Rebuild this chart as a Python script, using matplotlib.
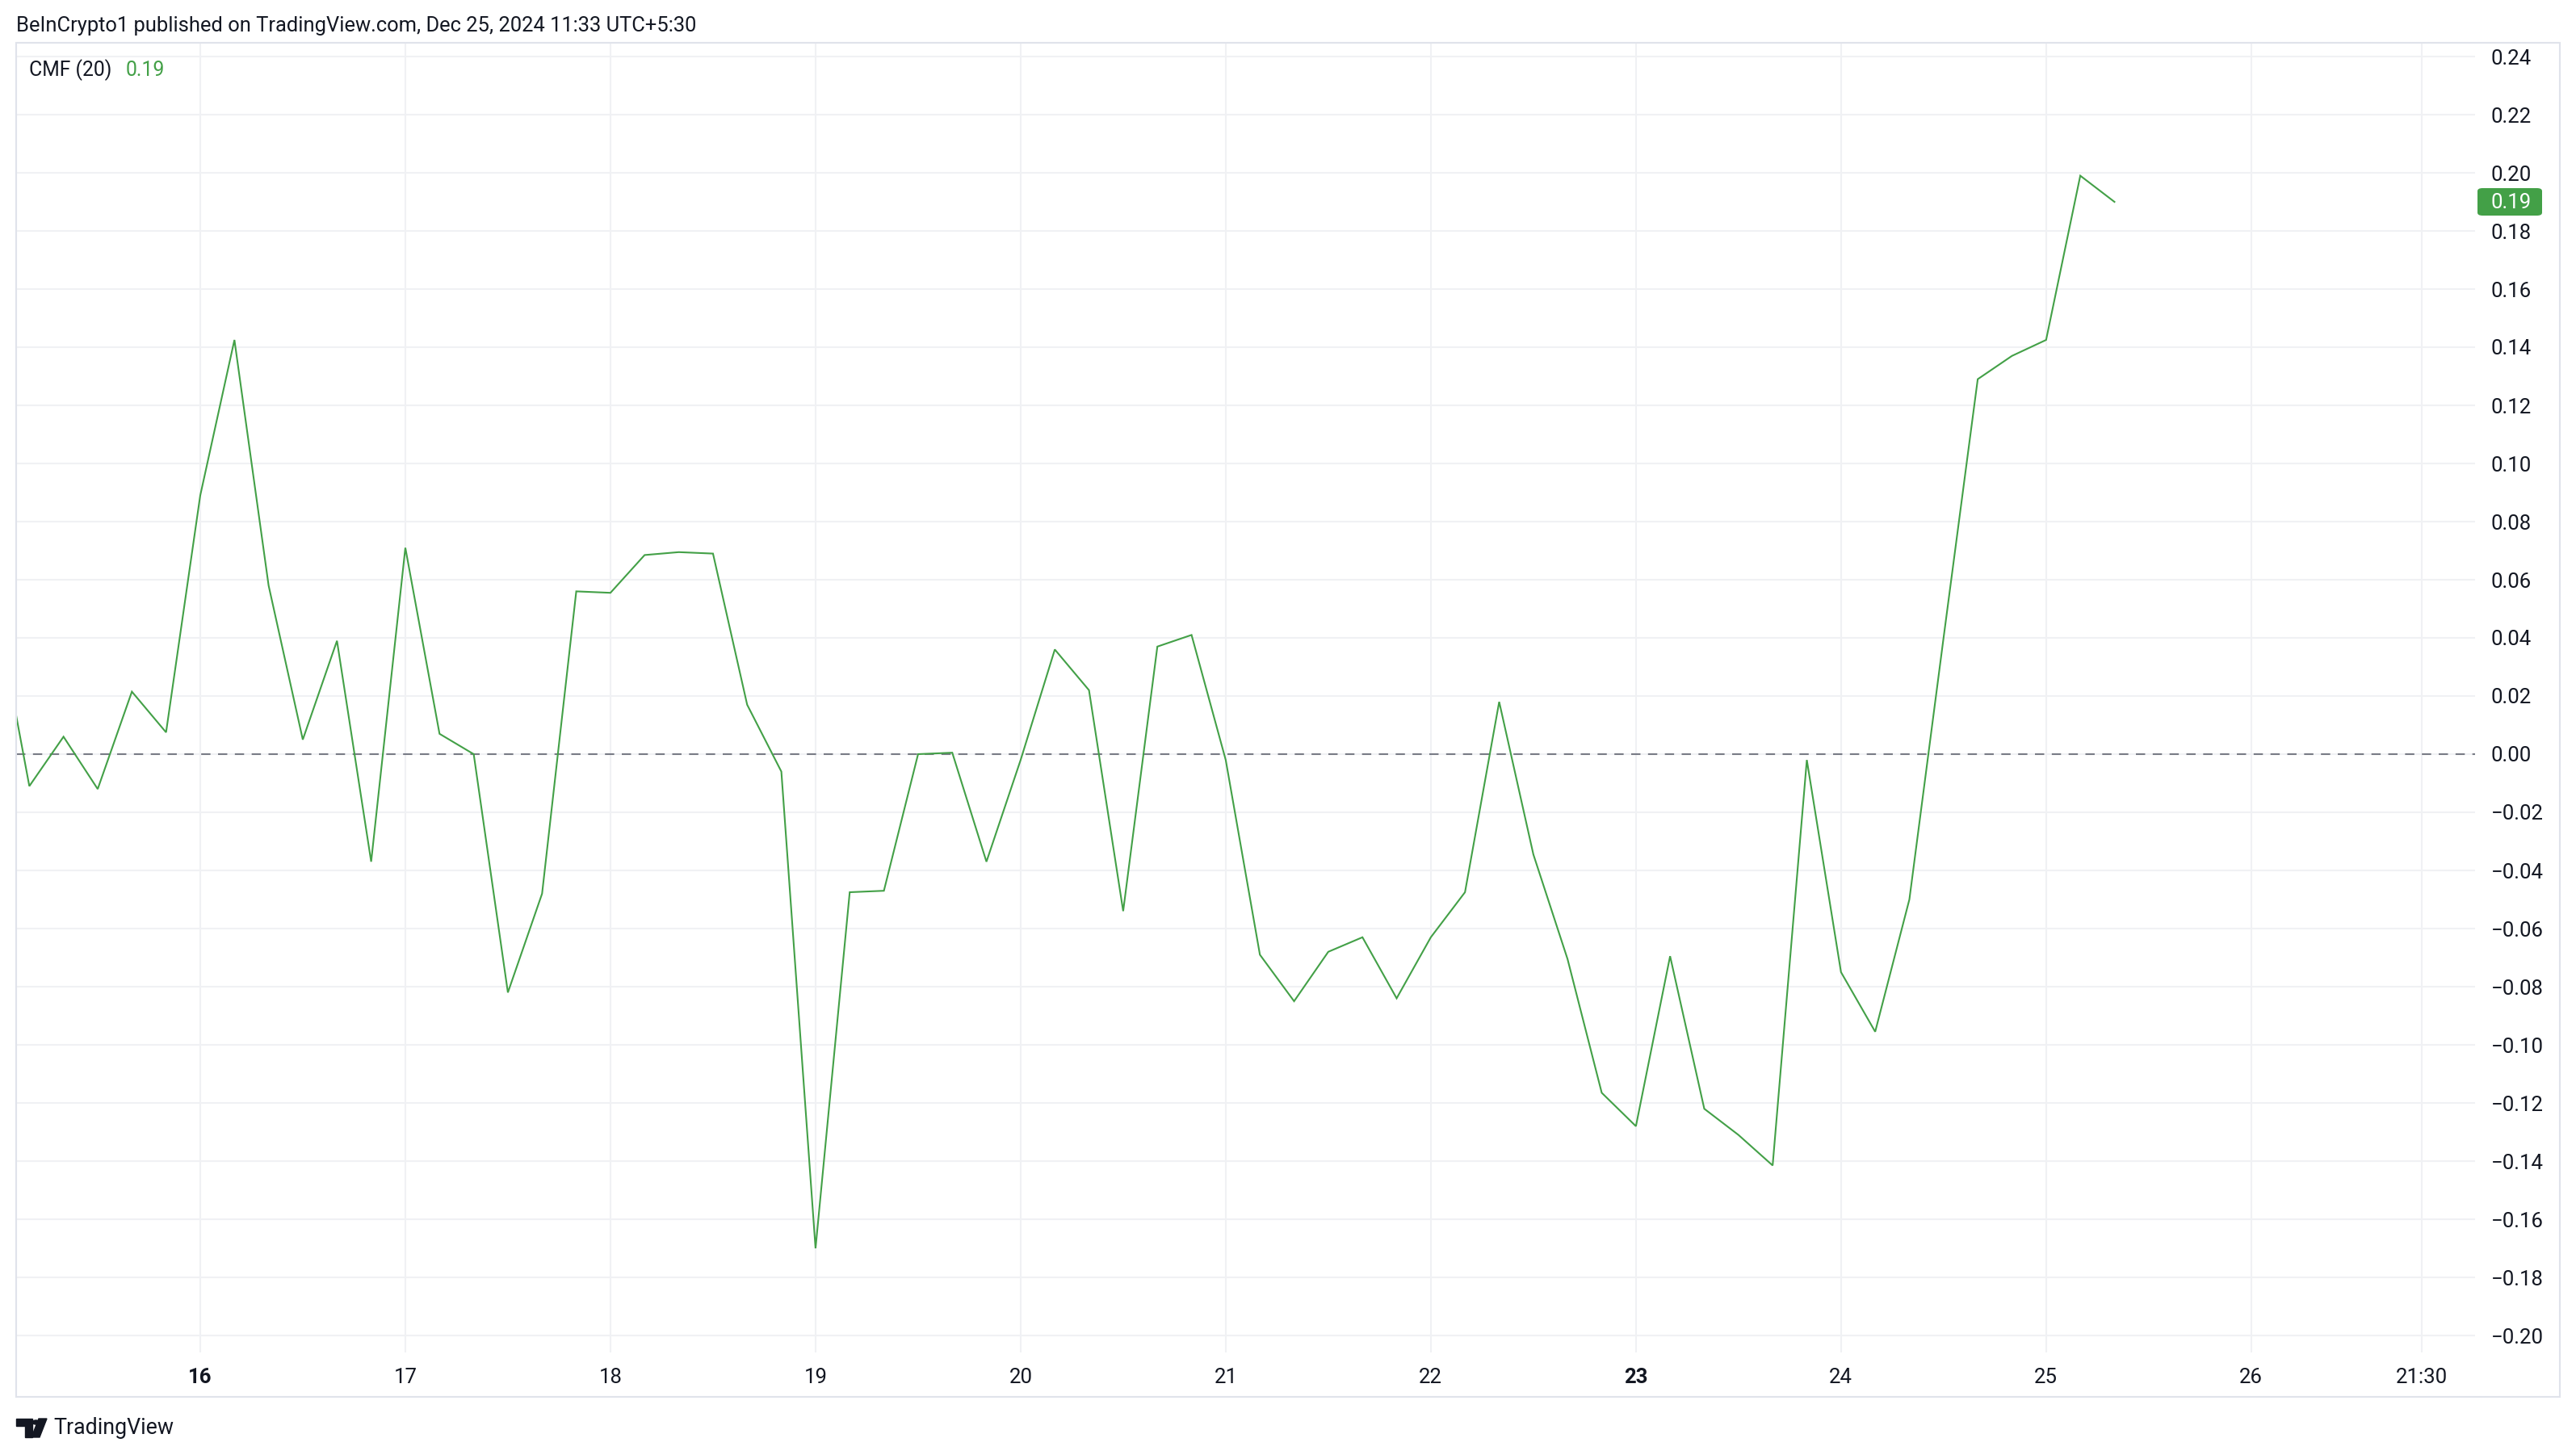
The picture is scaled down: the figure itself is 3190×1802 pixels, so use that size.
import matplotlib
matplotlib.use("Agg")
import matplotlib.pyplot as plt
import matplotlib.patches as mpatches
import matplotlib.dates as mdates
import numpy as np
import pandas as pd

# CMF(20) values, 4h bars (UTC+5:30), first bar Dec 15 01:30
cmf = [0.052, -0.011, 0.006, -0.012, 0.0215, 0.0075,
       0.089, 0.1425, 0.058, 0.005, 0.039, -0.037,
       0.071, 0.007, 0.000, -0.082, -0.048, 0.056,
       0.0555, 0.0685, 0.0695, 0.069, 0.017, -0.006,
       -0.170, -0.0475, -0.047, 0.000, 0.0005, -0.037,
       -0.002, 0.036, 0.022, -0.054, 0.037, 0.041,
       -0.002, -0.069, -0.085, -0.068, -0.063, -0.084,
       -0.063, -0.0475, 0.018, -0.0345, -0.0705, -0.1165,
       -0.128, -0.0695, -0.122, -0.131, -0.1415, -0.002,
       -0.075, -0.0955, -0.050, 0.040, 0.129, 0.137,
       0.1425, 0.199, 0.190]
times = pd.date_range("2024-12-15 01:30", periods=len(cmf), freq="4h")

day_ticks = pd.date_range("2024-12-16 01:30", "2024-12-26 01:30", freq="1D")
tick_times = list(day_ticks) + [pd.Timestamp("2024-12-26 21:30")]
tick_labels = [str(d.day) for d in day_ticks] + ["21:30"]
bold_labels = ["16", "23"]
y_ticks = np.round(np.arange(-0.20, 0.2401, 0.02), 2) + 0.0
last_value = 0.19

W, H = 3190, 1802
GREEN = "#43a047"
GRID = "#f0f1f4"
TXT = "#131722"
plt.rcParams["font.family"] = ["Roboto", "DejaVu Sans"]

fig = plt.figure(figsize=(W / 100, H / 100), dpi=100)
fig.patch.set_facecolor("white")

def fx(x): return x / W
def fy(y): return 1 - y / H

# plot area in pixels
L, R, T, B = 20, 3065, 53, 1675
ax = fig.add_axes([fx(L), fy(B), fx(R) - fx(L), fy(T) - fy(B)])

# x scale: bar 0 at pixel -6, 42.33 px per 4h bar
bar_px = 42.33
t0 = mdates.date2num(times[0])
step = 4 / 24
ax.set_xlim(t0 + (L + 6) / bar_px * step, t0 + (R + 6) / bar_px * step)
# y scale: 0.24 at y=70, 3600 px per unit
ax.set_ylim(-0.20 - (B - 1654) / 3600, 0.24 + (70 - T) / 3600)

ax.plot(times, cmf, color=GREEN, lw=1.5, solid_joinstyle="miter", zorder=3)
ax.axhline(0, color="#787b86", lw=1.5, linestyle=(0, (5.5, 4.5)), zorder=2)


def fmt(v):
    s = f"{v:.2f}"
    if s == "-0.00":
        s = "0.00"
    return s.replace("-", "\u2212")


ax.set_yticks(y_ticks)
ax.set_yticklabels([fmt(v) for v in y_ticks])
ax.yaxis.tick_right()
ax.set_xticks(tick_times)
ax.set_xticklabels(tick_labels)
for lab in ax.get_xticklabels():
    if lab.get_text() in bold_labels:
        lab.set_fontweight("bold")
ax.tick_params(axis="y", length=0, pad=14, labelsize=18.5, labelcolor=TXT)
ax.tick_params(axis="x", length=0, pad=13.5, labelsize=18.5, labelcolor=TXT)
ax.grid(True, color=GRID, lw=1.5)
ax.set_axisbelow(True)
for s in ax.spines.values():
    s.set_visible(False)

# outer panel border
fig.add_artist(mpatches.Rectangle((fx(20), fy(1730)), fx(3170) - fx(20), fy(53) - fy(1730),
                                  transform=fig.transFigure, fill=False,
                                  edgecolor="#e0e3eb", lw=1.5))

# last value tag
fig.add_artist(mpatches.FancyBboxPatch((fx(3068), fy(267)), fx(3148) - fx(3068), fy(233) - fy(267),
                                       boxstyle="round,pad=0,rounding_size=0.002",
                                       transform=fig.transFigure, facecolor=GREEN, edgecolor="none"))
fig.text(fx(3085), fy(251), f"{last_value:.2f}", color="white", fontsize=18.5,
         ha="left", va="center")

# header and legend
fig.text(fx(20), fy(32), "BeInCrypto1 published on TradingView.com, Dec 25, 2024 11:33 UTC+5:30",
         fontsize=18.4, color=TXT, ha="left", va="center")
fig.text(fx(36), fy(87), "CMF (20)", fontsize=17.8, color=TXT, ha="left", va="center")
fig.text(fx(156), fy(87), f"{last_value:.2f}", fontsize=17.8, color=GREEN, ha="left", va="center")

# TradingView logo
fig.add_artist(mpatches.Polygon([(fx(20), fy(1757)), (fx(40), fy(1757)), (fx(40), fy(1780)),
                                 (fx(31), fy(1780)), (fx(31), fy(1766)), (fx(20), fy(1766))],
                                transform=fig.transFigure, color=TXT))
fig.add_artist(mpatches.Circle((fx(44.5), fy(1761.5)), 4.5 / W,
                               transform=fig.transFigure, color=TXT))
fig.add_artist(mpatches.Polygon([(fx(48), fy(1757)), (fx(58), fy(1757)), (fx(49), fy(1780)),
                                 (fx(39), fy(1780))],
                                transform=fig.transFigure, color=TXT))
fig.text(fx(66), fy(1768), "TradingView", fontsize=19.3, color=TXT, ha="left", va="center")

fig.savefig("out.png", dpi=100, facecolor="white")
